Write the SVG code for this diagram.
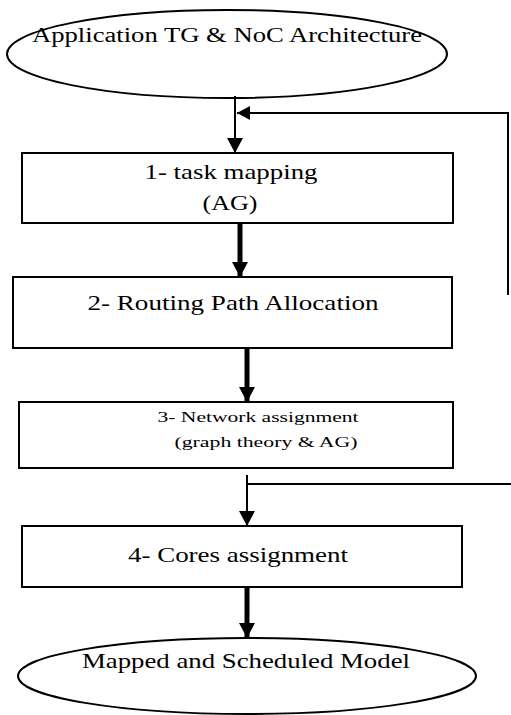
<svg xmlns="http://www.w3.org/2000/svg" width="511" height="715" viewBox="0 0 511 715" font-family="'Liberation Serif', 'DejaVu Serif', serif">
<style>
.shape{fill:#fff;stroke:#000;stroke-width:2}
.t{fill:#000;text-anchor:middle}
.thick{stroke:#000;stroke-width:5;fill:none}
.thin{stroke:#000;stroke-width:2;fill:none}
</style>
<defs>
<marker id="ah" markerWidth="15" markerHeight="16" refX="15" refY="8" orient="auto" markerUnits="userSpaceOnUse">
<path d="M0,0 L15,8 L0,16 Z" fill="#000"/>
</marker>
<marker id="ah2" markerWidth="13" markerHeight="14" refX="13" refY="7" orient="auto" markerUnits="userSpaceOnUse">
<path d="M0,0 L13,7 L0,14 Z" fill="#000"/>
</marker>
</defs>
<rect width="511" height="715" fill="#fff"/>
<g id="start">
<ellipse class="shape" cx="227" cy="54" rx="220" ry="44"/>
<text class="t" font-family="'Liberation Serif', serif" x="227" y="42" font-size="20" textLength="390" lengthAdjust="spacingAndGlyphs">Application TG &amp; NoC Architecture</text>
</g>
<g id="step1">
<rect class="shape" x="22" y="153" width="431" height="70"/>
<text class="t" font-family="'Liberation Serif', serif" x="231" y="179" font-size="21" textLength="173" lengthAdjust="spacingAndGlyphs">1- task mapping</text>
<text class="t" font-family="'Liberation Serif', serif" x="230" y="210" font-size="21" textLength="55" lengthAdjust="spacingAndGlyphs">(AG)</text>
</g>
<g id="step2">
<rect class="shape" x="13" y="277" width="439" height="71"/>
<text class="t" font-family="'Liberation Serif', serif" x="233" y="310" font-size="22" textLength="291" lengthAdjust="spacingAndGlyphs">2- Routing Path Allocation</text>
</g>
<g id="step3">
<rect class="shape" x="19" y="402" width="434" height="66"/>
<text class="t" font-family="'Liberation Serif', serif" x="258" y="422" font-size="15" textLength="201" lengthAdjust="spacingAndGlyphs">3- Network assignment</text>
<text class="t" font-family="'Liberation Serif', serif" x="266" y="447" font-size="15" textLength="183" lengthAdjust="spacingAndGlyphs">(graph theory &amp; AG)</text>
</g>
<g id="step4">
<rect class="shape" x="22" y="526" width="440" height="61"/>
<text class="t" font-family="'Liberation Serif', serif" x="238" y="562" font-size="22" textLength="220" lengthAdjust="spacingAndGlyphs">4- Cores assignment</text>
</g>
<g id="end">
<ellipse class="shape" cx="247" cy="676" rx="229" ry="38"/>
<text class="t" font-family="'Liberation Serif', serif" x="246" y="668" font-size="21" textLength="328" lengthAdjust="spacingAndGlyphs">Mapped and Scheduled Model</text>
</g>
<g id="connectors">
<line class="thin" x1="235" y1="96" x2="235" y2="153" stroke-width="3" marker-end="url(#ah)"/>
<polyline class="thin" points="508,295 508,113 237,113" stroke-width="2.5" marker-end="url(#ah2)"/>
<line class="thick" x1="240" y1="223" x2="240" y2="277" marker-end="url(#ah)"/>
<line class="thick" x1="247" y1="348" x2="247" y2="402" marker-end="url(#ah)"/>
<line class="thin" x1="247" y1="475" x2="247" y2="526" stroke-width="3" marker-end="url(#ah)"/>
<line class="thin" x1="247" y1="484" x2="511" y2="484" stroke-width="1.5"/>
<line class="thick" x1="247" y1="587" x2="247" y2="638" marker-end="url(#ah)"/>
</g>
</svg>
